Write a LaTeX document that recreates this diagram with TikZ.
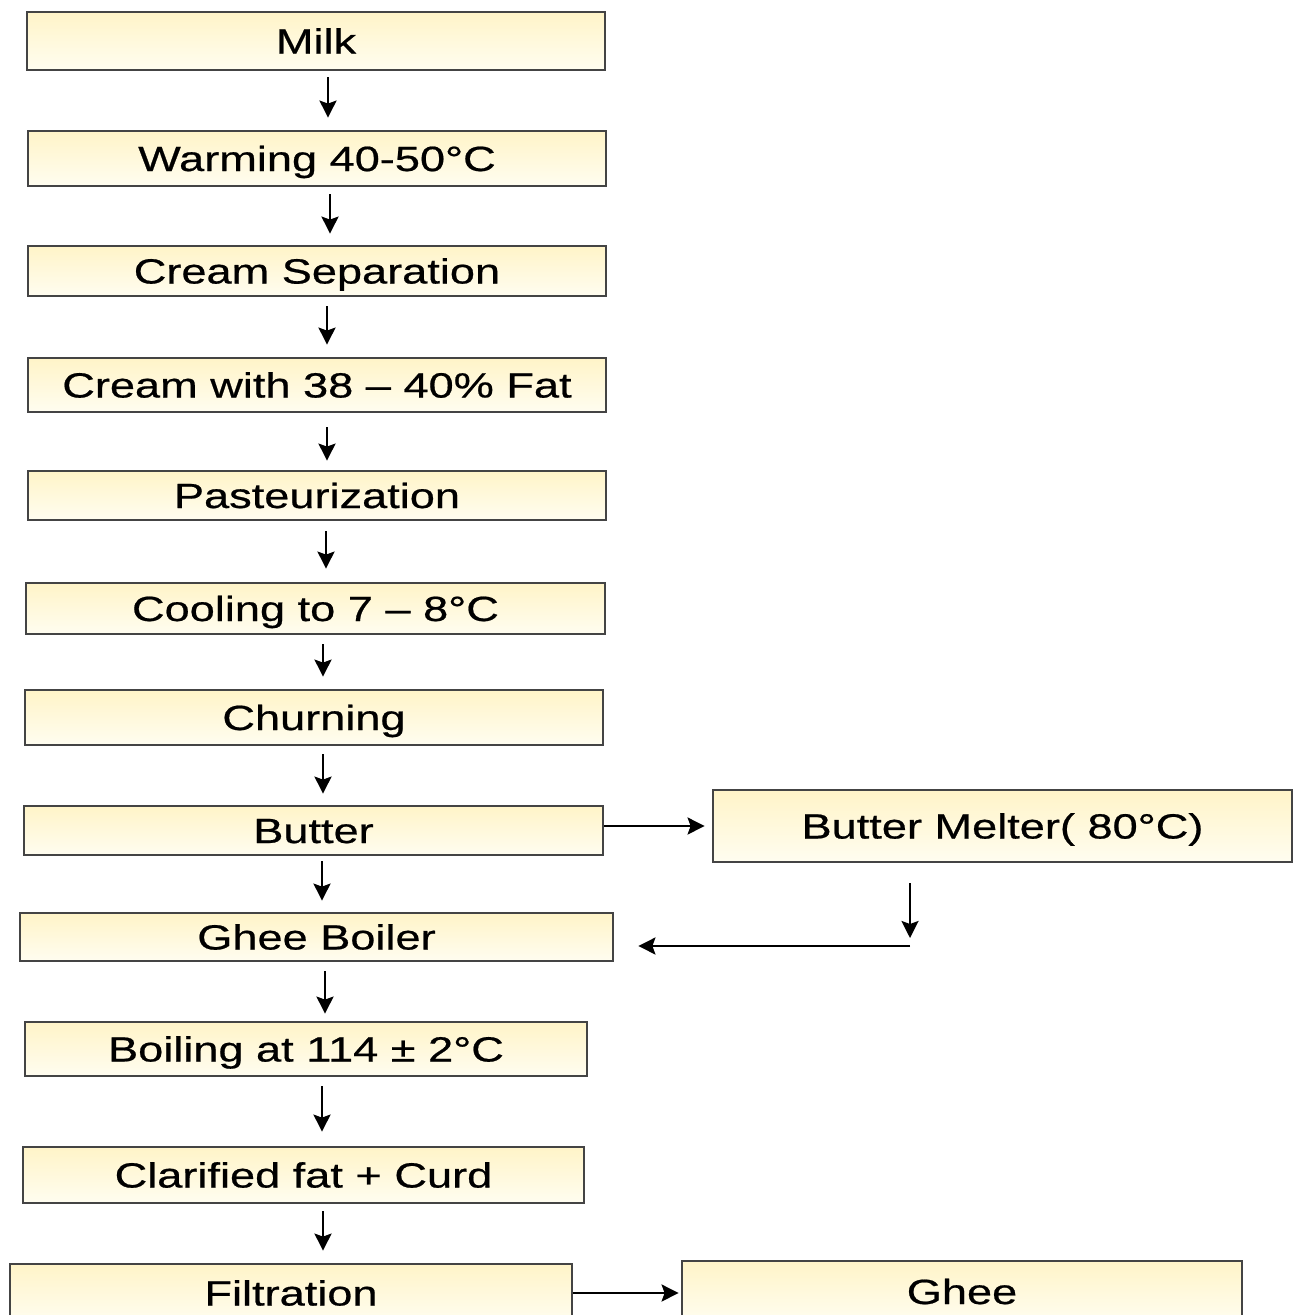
\documentclass[tikz,border=0pt]{standalone}
\usepackage{fontspec}
\usetikzlibrary{arrows.meta}
\newfontfamily\boxfont[FakeStretch=1.29, FakeBold=0.6]{Liberation Sans}
\definecolor{boxtop}{HTML}{FFF4C8}
\definecolor{boxbot}{HTML}{FFFDF0}
\definecolor{boxline}{HTML}{444444}

\tikzset{
  box/.style={draw=boxline, line width=2.8pt, top color=boxtop, bottom color=boxbot,
    inner sep=0pt, text height=25pt, text depth=0pt, align=center,
    font=\boxfont\fontsize{35}{42}\selectfont},
  flow/.style={line width=2.4pt, draw=black,
    -{Stealth[length=17pt, width=17pt, inset=3pt]}},
}

% downward connector: from, to, x offset, gap at start, gap at end
\newcommand\flowdown[5]{%
  \path (#1.south) ++(#3,0) coordinate (#1-out);
  \draw[flow, shorten <=#4, shorten >=#5] (#1-out) -- (#1-out |- #2.north);}

\begin{document}
\begin{tikzpicture}[x=1pt, y=-1pt]
  \useasboundingbox (0,0) rectangle (1293,1315);
  \clip (0,0) rectangle (1293,1315);

  % main column
  \node[box, minimum width=578pt, minimum height=58pt] (milk)  at (316,41)     {Milk};
  \node[box, minimum width=578pt, minimum height=55pt] (warm)  at (317,158.5)  {Warming 40-50°C};
  \node[box, minimum width=578pt, minimum height=50pt] (sep)   at (317,271)    {Cream Separation};
  \node[box, minimum width=578pt, minimum height=54pt] (cream) at (317,385)    {Cream with 38 – 40\% Fat};
  \node[box, minimum width=578pt, minimum height=49pt] (past)  at (317,495.5)  {Pasteurization};
  \node[box, minimum width=579pt, minimum height=51pt] (cool)  at (315.5,608.5){Cooling to 7 – 8°C};
  \node[box, minimum width=578pt, minimum height=55pt] (churn) at (314,717.5)  {Churning};
  \node[box, minimum width=579pt, minimum height=49pt] (butter) at (313.5,830.5){Butter};
  \node[box, minimum width=593pt, minimum height=48pt] (gb)    at (316.5,937)  {Ghee Boiler};
  \node[box, minimum width=562pt, minimum height=54pt] (boil)  at (306,1049)   {Boiling at 114 ± 2°C};
  \node[box, minimum width=561pt, minimum height=56pt] (clar)  at (303.5,1175) {Clarified fat + Curd};
  \node[box, minimum width=562pt, minimum height=58pt] (filt)  at (291,1293)   {Filtration};

  % side column
  \node[box, minimum width=579pt, minimum height=72pt] (melt)  at (1002.5,826) {Butter Melter( 80°C)};
  \node[box, minimum width=560pt, minimum height=61pt] (ghee)  at (962,1291.5) {Ghee};

  % vertical flow
  \flowdown{milk}{warm}{12}{6pt}{12pt}
  \flowdown{warm}{sep}{13}{7pt}{11pt}
  \flowdown{sep}{cream}{10}{9pt}{12pt}
  \flowdown{cream}{past}{10}{14pt}{9pt}
  \flowdown{past}{cool}{9}{10pt}{13pt}
  \flowdown{cool}{churn}{7.5}{9pt}{12pt}
  \flowdown{churn}{butter}{9}{8pt}{11pt}
  \flowdown{butter}{gb}{8.5}{5pt}{11pt}
  \flowdown{gb}{boil}{8.5}{9pt}{7pt}
  \flowdown{boil}{clar}{16}{9pt}{14pt}
  \flowdown{clar}{filt}{19.5}{7pt}{12pt}

  % butter melting loop
  \path (butter.east) ++(0,-4.5) coordinate (butter-side);
  \draw[flow, shorten >=7pt] (butter-side) -- (butter-side -| melt.west);
  \path (melt.south) ++(-92.5,0) coordinate (melt-out);
  \path (gb.east) ++(0,9) coordinate (gb-in);
  \draw[flow, shorten <=20pt, shorten >=8pt] (melt-out) -- (melt-out |- gb-in);
  \draw[flow, shorten >=24pt] (melt-out |- gb-in) -- (gb-in);

  % final product
  \draw[flow, shorten >=2pt] (filt.east) -- (filt.east -| ghee.west);
\end{tikzpicture}
\end{document}
